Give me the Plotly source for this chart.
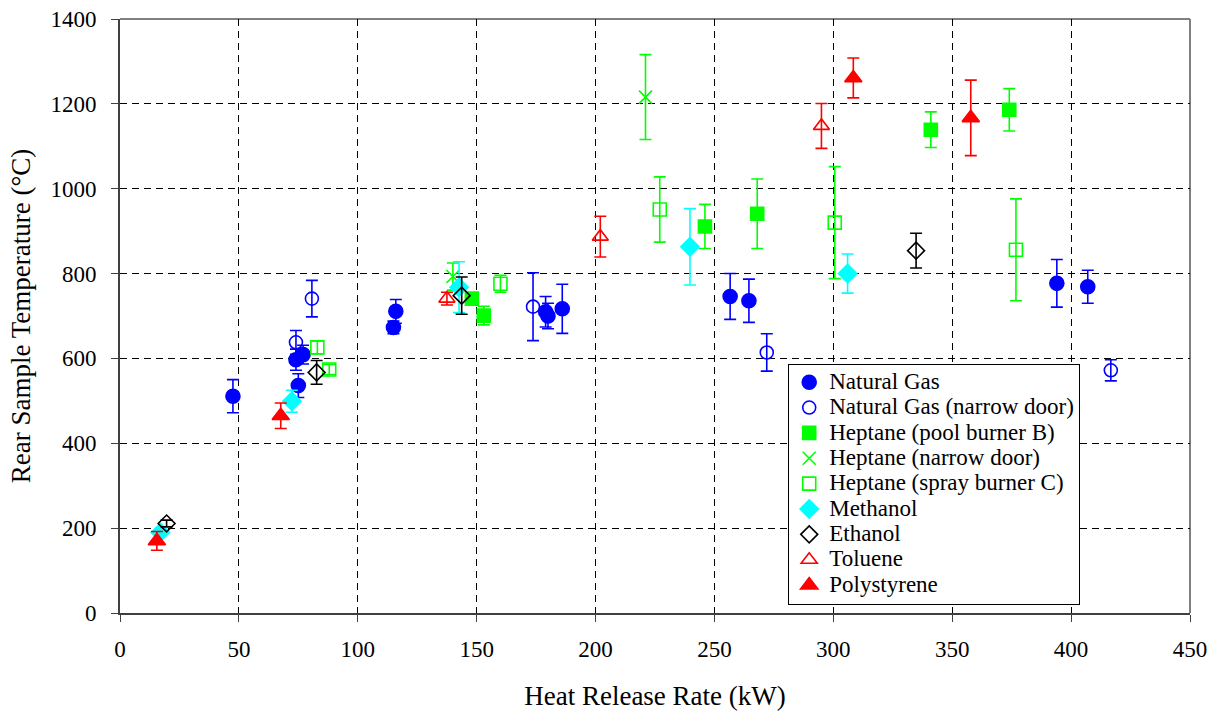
import plotly.graph_objects as go

# Heat release rate (kW), rear sample temperature (°C) and its error half-width
ng_x = [47.5, 74, 77, 75, 116, 115, 179, 180, 186, 256.6, 264.5, 394, 407]
ng_y = [511, 597, 609, 536, 711, 673, 710, 700, 717, 746, 736, 777, 769]
ng_e = [39, 25, 22, 28, 28, 15, 36, 30, 58, 54, 51, 56, 39]

ngn_x = [80.7, 74, 173.7, 272, 416.7]
ngn_y = [741, 638, 722, 614, 572]
ngn_e = [43, 28, 80, 44, 25]

hpb_x = [148, 153, 246, 268, 341, 374]
hpb_y = [741, 701, 911, 941, 1139, 1186]
hpb_e = [12, 22, 52, 82, 42, 50]

hnd_x = [140, 221]
hnd_y = [793, 1216]
hnd_e = [32, 100]

hsc_x = [83, 88, 160, 227, 300.6, 376.8]
hsc_y = [626, 574, 776, 951, 920, 856]
hsc_e = [15, 12, 20, 77, 132, 120]

meth_x = [17, 72.3, 142.6, 239.7, 306]
meth_y = [190, 499, 768, 863, 800]
meth_e = [8, 26, 60, 90, 46]

eth_x = [19.6, 82.7, 143.7, 334.8]
eth_y = [211, 567, 748, 854]
eth_e = [8, 28, 44, 41]

tol_x = [137.5, 202, 295]
tol_y = [741, 887, 1148]
tol_e = [15, 48, 53]

ps_x = [15.5, 67.6, 308.4, 357.8]
ps_y = [170, 465, 1261, 1167]
ps_e = [22, 30, 47, 89]

BLUE = "#0000ff"
GREEN = "#00ff00"
CYAN = "#00ffff"
BLACK = "#000000"
RED = "#ff0000"

series = [
    ("Natural Gas", ng_x, ng_y, ng_e, BLUE, "circle", 14),
    ("Natural Gas (narrow door)", ngn_x, ngn_y, ngn_e, BLUE, "circle-open", 13),
    ("Heptane (pool burner B)", hpb_x, hpb_y, hpb_e, GREEN, "square", 13),
    ("Heptane (narrow door)", hnd_x, hnd_y, hnd_e, GREEN, "x-thin-open", 13),
    ("Heptane (spray burner C)", hsc_x, hsc_y, hsc_e, GREEN, "square-open", 13),
    ("Methanol", meth_x, meth_y, meth_e, CYAN, "diamond", 14),
    ("Ethanol", eth_x, eth_y, eth_e, BLACK, "diamond-open", 13),
    ("Toluene", tol_x, tol_y, tol_e, RED, "triangle-up-open", 14),
    ("Polystyrene", ps_x, ps_y, ps_e, RED, "triangle-up", 15),
]

FONT = "Liberation Serif"
AXIS = "#404040"
GRID_DASH = "7px,5px"
LEGEND_TEXT_PX = 23

fig = go.Figure()
for name, xs, ys, es, col, sym, size in series:
    fig.add_trace(go.Scatter(
        x=xs, y=ys,
        name=f'<span style="font-size:{LEGEND_TEXT_PX}px">{name}</span>',
        mode="markers",
        marker=dict(symbol=sym, size=size, color=col,
                    line=dict(color=col, width=1.6)),
        error_y=dict(type="data", array=es, visible=True,
                     color=col, thickness=1.6, width=6),
    ))

fig.update_layout(
    width=1216, height=714,
    margin=dict(l=120, r=26, t=19, b=101),
    paper_bgcolor="white", plot_bgcolor="white",
    font=dict(family=FONT, size=22, color="black"),
    showlegend=True,
    legend=dict(
        x=0.6245, y=0.42, xanchor="left", yanchor="top",
        bgcolor="white", bordercolor="black", borderwidth=1,
        font=dict(family=FONT, size=17.2, color="black"),
        tracegroupgap=0, itemwidth=30,
    ),
    xaxis=dict(
        range=[0, 450], tickvals=list(range(0, 451, 50)),
        showgrid=True, gridcolor="black", griddash=GRID_DASH, gridwidth=1,
        zeroline=False, showline=True, linecolor=AXIS, linewidth=2,
        ticks="outside", ticklen=7, tickcolor=AXIS, tickwidth=1,
        ticklabelstandoff=7, automargin=False,
        tickfont=dict(family=FONT, size=23),
        title=dict(text="Heat Release Rate (kW)", font=dict(family=FONT, size=27), standoff=26),
    ),
    yaxis=dict(
        range=[0, 1400], tickvals=list(range(0, 1401, 200)),
        showgrid=True, gridcolor="black", griddash=GRID_DASH, gridwidth=1,
        zeroline=False, showline=True, linecolor=AXIS, linewidth=2,
        ticks="outside", ticklen=7, tickcolor=AXIS, tickwidth=1,
        ticklabelstandoff=10, automargin=False,
        tickfont=dict(family=FONT, size=23),
        title=dict(text="Rear Sample Temperature (°C)", font=dict(family=FONT, size=27), standoff=12),
    ),
    shapes=[
        dict(type="line", xref="paper", yref="paper", x0=0, x1=1, y0=1, y1=1,
             line=dict(color="#808080", width=2), layer="below"),
        dict(type="line", xref="paper", yref="paper", x0=1, x1=1, y0=0, y1=1,
             line=dict(color="#808080", width=2), layer="below"),
    ],
)

fig.write_html("out.html")
